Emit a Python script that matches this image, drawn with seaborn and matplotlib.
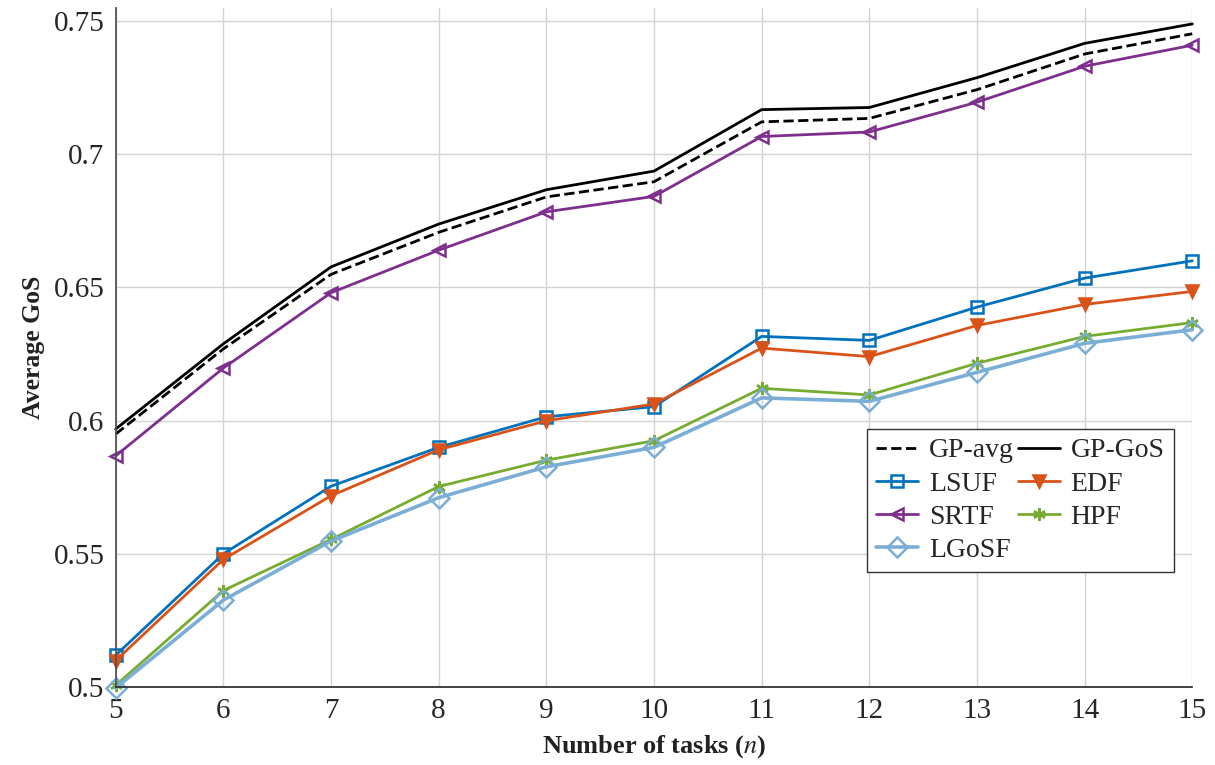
import pandas as pd
import seaborn as sns
import matplotlib.pyplot as plt

# Données
n_tasks = [5, 6, 7, 8, 9, 10, 11, 12, 13, 14, 15]
gp_avg = [0.5949, 0.6269, 0.6549, 0.6707, 0.6840, 0.6897, 0.7122, 0.7135, 0.7243, 0.7377, 0.7453]
gp_gos = [0.5968, 0.6288, 0.6577, 0.6738, 0.6867, 0.6937, 0.7168, 0.7176, 0.7288, 0.7417, 0.7490]
lsuf = [0.5118, 0.5499, 0.5753, 0.5899, 0.6014, 0.6052, 0.6316, 0.6301, 0.6426, 0.6535, 0.6600]
edf = [0.5098, 0.5478, 0.5717, 0.5890, 0.5999, 0.6062, 0.6272, 0.6240, 0.6357, 0.6436, 0.6485]
srtf = [0.5867, 0.6197, 0.6480, 0.6640, 0.6784, 0.6842, 0.7067, 0.7084, 0.7196, 0.7331, 0.7410]
hpf = [0.5005, 0.5361, 0.5553, 0.5752, 0.5851, 0.5924, 0.6121, 0.6096, 0.6215, 0.6316, 0.6368]
lgosf = [0.4995, 0.5325, 0.5547, 0.5710, 0.5826, 0.5899, 0.6085, 0.6072, 0.6181, 0.6290, 0.6341]

y_ticks = [0.5, 0.55, 0.6, 0.65, 0.7, 0.75]
y_tick_labels = ["0.5", "0.55", "0.6", "0.65", "0.7", "0.75"]

sns.set_style("white")
plt.rcParams['font.family'] = ['Liberation Serif', 'DejaVu Serif']
plt.rcParams['mathtext.fontset'] = 'stix'

fig = plt.figure(figsize=(12.15, 7.65), dpi=100)
ax = fig.add_axes([0.0952, 0.1024, 0.8861, 0.8872])

lw = 2.0
# (label, données, couleur, style, marqueur, remplissage)
series = [
    ("GP-avg", gp_avg, "black", "--", None, "none"),
    ("GP-GoS", gp_gos, "black", "-", None, "none"),
    ("LSUF", lsuf, "#0072BD", "-", "s", "none"),
    ("EDF", edf, "#D95319", "-", "v", "#D95319"),
    ("SRTF", srtf, "#7E2F8E", "-", "<", "none"),
    ("HPF", hpf, "#77AC30", "-", (6, 2, 0), "none"),
    ("LGoSF", lgosf, "#7AAED6", "-", "D", "none"),
]

for label, vals, color, ls, marker, fill in series:
    df = pd.DataFrame({"n": n_tasks, "gos": vals})
    sns.lineplot(data=df, x="n", y="gos", ax=ax, color=color, linestyle=ls,
                 linewidth=lw if label != "LGoSF" else 2.6,
                 marker=marker, markersize=9 if marker != "D" else 10,
                 markerfacecolor=fill, markeredgecolor=color,
                 markeredgewidth=1.8, label=label, clip_on=False)

# Légende sur 2 colonnes, remplie ligne par ligne
h, l = ax.get_legend_handles_labels()
lookup = dict(zip(l, h))
order = ["GP-avg", "LSUF", "SRTF", "LGoSF", "GP-GoS", "EDF", "HPF"]
leg = ax.legend([lookup[k] for k in order], order, ncol=2,
                loc="upper left", bbox_to_anchor=(0.698, 0.3797),
                fontsize=20, frameon=True, fancybox=False,
                edgecolor="#333333", framealpha=1, handlelength=1.5,
                handletextpad=0.4, columnspacing=0.15, labelspacing=0.28,
                borderpad=0.32, borderaxespad=0)
leg.get_frame().set_linewidth(1.0)

ax.set_xlim(5, 15)
ax.set_ylim(0.5, 0.755)
ax.set_xticks(n_tasks)
ax.set_xticklabels([str(v) for v in n_tasks])
ax.set_yticks(y_ticks)
ax.set_yticklabels(y_tick_labels)
ax.grid(True, color="#d3d3d3", linewidth=1.0)
ax.set_axisbelow(True)

for side in ["top", "right"]:
    ax.spines[side].set_visible(False)
ax.spines["left"].set_color("#555555")
ax.spines["bottom"].set_color("#333333")
ax.spines["left"].set_linewidth(1.3)
ax.spines["bottom"].set_linewidth(1.3)

ax.tick_params(axis="y", direction="in", length=7, width=1.0, color="#777777",
               labelsize=21, pad=8)
ax.tick_params(axis="x", direction="in", length=0, labelsize=21, pad=8)

ax.set_xlabel("Number of tasks ($n$)", fontsize=19, fontweight="bold", labelpad=7,
              color="#222222")
ax.set_ylabel("Average GoS", fontsize=18.5, fontweight="bold", labelpad=6,
              color="#222222")

fig.savefig("out.png", dpi=100)
